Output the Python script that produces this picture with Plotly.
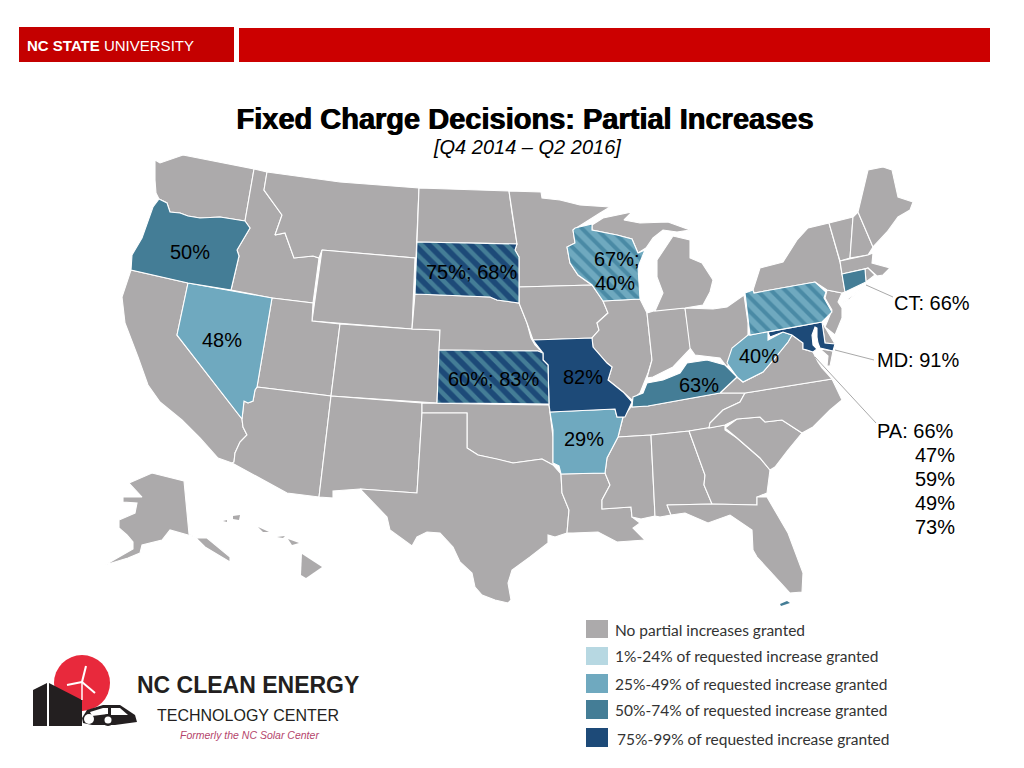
import plotly.graph_objects as go

# ---------- state outlines, map units ----------
WA = [(155,160),(160,163),(183,155),(254,169),(245,221),(220,217),(200,218),(188,216),(180,213),(170,212),(167,203),(159,199),(156,193),(155,180)]
OR = [(159,199),(167,203),(170,212),(180,213),(188,216),(200,218),(220,217),(245,221),(250,228),(237,250),(239,256),(231,290),(188,283),(131,270),(132,255),(142,238),(153,207)]
CA = [(131,270),(188,283),(177,335),(242,419),(243,427),(247,435),(240,442),(235,453),(234,462),(232,463),(218,458),(200,438),(182,420),(160,402),(148,385),(138,357),(125,323),(122,297)]
NV = [(188,283),(272,298),(257,387),(255,390),(253,401),(248,403),(244,401),(242,419),(177,335)]
ID = [(254,169),(267,172),(264,190),(282,215),(275,235),(285,233),(294,258),(313,256),(319,258),(313,303),(272,298),(231,290),(239,256),(237,250),(250,228),(245,221)]
MT = [(267,172),(340,182),(419,188),(416,258),(322,250),(319,258),(313,256),(294,258),(285,233),(275,235),(282,215),(264,190)]
WY = [(322,250),(415,258),(412,329),(312,321)]
UT = [(272,298),(313,303),(312,321),(340,324),(331,396),(257,387)]
AZ = [(257,387),(331,396),(319,497),(287,493),(232,463),(234,462),(235,453),(240,442),(247,435),(243,427),(242,419),(244,401),(248,403),(253,401),(255,390)]
CO = [(340,324),(412,329),(440,330),(437,403),(331,396)]
NM = [(331,396),(422,403),(422,413),(417,493),(360,489),(333,491),(333,498),(319,497)]
ND = [(419,188),(509,191),(512,213),(517,244),(417,242)]
SD = [(417,242),(517,244),(515,250),(519,257),(519,303),(497,300),(490,297),(415,294)]
NE = [(415,294),(490,297),(497,300),(519,303),(527,323),(531,338),(535,345),(543,353),(538,351),(439,350),(440,330),(412,329)]
KS = [(439,350),(538,351),(543,353),(543,360),(548,365),(549,404),(437,403)]
OK = [(422,403),(549,405),(550,413),(553,437),(553,465),(542,459),(513,463),(497,459),(478,455),(467,448),(467,413),(422,413)]
TX = [(422,413),(467,413),(467,448),(478,455),(497,459),(513,463),(542,459),(553,465),(561,474),(562,493),(569,510),(567,533),(555,537),(548,535),(548,543),(530,557),(512,570),(508,583),(511,600),(508,603),(495,600),(482,595),(475,587),(472,573),(460,562),(453,547),(440,533),(427,532),(417,537),(412,546),(390,530),(387,517),(360,489),(417,493)]
MN = [(509,191),(541,192),(542,198),(560,200),(580,205),(610,207),(600,213),(575,228),(573,230),(575,243),(567,247),(570,263),(578,275),(592,285),(519,287),(519,257),(515,250),(517,244),(512,213)]
IA = [(519,287),(592,285),(603,301),(608,313),(597,323),(599,330),(592,338),(533,340),(527,323),(519,303)]
MO = [(533,340),(592,338),(593,347),(607,363),(612,367),(608,380),(623,392),(632,402),(625,417),(617,417),(615,409),(550,412),(549,404),(548,365),(543,360),(543,353)]
AR = [(550,412),(615,409),(617,417),(623,417),(618,437),(607,458),(605,473),(561,474),(559,466),(553,463),(553,430)]
LA = [(561,474),(605,473),(610,485),(602,500),(602,509),(631,507),(632,517),(640,523),(633,528),(645,540),(617,542),(598,532),(573,533),(567,533),(569,510),(562,493)]
WI = [(575,228),(592,224),(592,230),(617,235),(632,239),(638,253),(645,250),(638,267),(640,299),(603,301),(592,285),(578,275),(570,263),(567,247),(575,243),(573,230)]
IL = [(603,301),(640,299),(647,313),(652,360),(648,373),(640,393),(632,400),(623,392),(608,380),(612,367),(607,363),(593,347),(592,338),(599,330),(597,323),(608,313)]
IN = [(647,313),(657,310),(685,308),(691,348),(673,367),(653,377),(647,378),(652,360)]
OH = [(685,308),(713,309),(727,307),(744,295),(748,323),(748,335),(727,367),(720,358),(695,355),(690,348)]
MI_LOWER = [(657,260),(673,236),(690,240),(690,258),(702,263),(713,280),(710,292),(703,305),(685,308),(655,311),(663,293),(657,277)]
MI_UPPER = [(592,225),(603,218),(627,213),(632,212),(624,220),(640,223),(668,222),(690,230),(677,232),(663,230),(653,238),(646,248),(638,253),(632,239),(617,235),(592,230)]
KY = [(632,407),(633,397),(643,393),(647,383),(663,380),(680,373),(687,363),(707,360),(725,365),(737,377),(720,393),(648,406)]
TN = [(631,407),(648,406),(720,393),(745,393),(740,402),(723,410),(710,423),(709,428),(689,431),(651,435),(618,437),(623,417)]
MS = [(618,437),(651,435),(655,516),(641,519),(632,517),(631,507),(602,509),(602,500),(610,485),(605,473),(607,458)]
AL = [(651,435),(689,431),(705,475),(704,485),(712,504),(667,505),(671,515),(660,517),(655,516)]
GA = [(689,431),(725,425),(725,430),(737,438),(760,458),(770,470),(767,493),(757,497),(757,505),(712,504),(704,485),(705,475)]
FL = [(667,505),(712,504),(757,505),(757,497),(767,497),(788,533),(803,573),(802,592),(790,593),(773,575),(757,557),(753,550),(752,530),(730,515),(708,523),(685,513),(671,515)]
SC = [(725,428),(737,419),(760,417),(765,422),(782,420),(802,433),(788,450),(775,467),(770,470),(760,458),(737,438)]
NC = [(745,393),(832,379),(842,400),(830,410),(813,427),(802,433),(782,420),(765,422),(760,417),(737,419),(725,425),(709,428),(710,423),(723,410),(740,402)]
VA = [(720,393),(737,377),(743,382),(763,372),(775,358),(788,342),(792,335),(803,343),(803,349),(807,350),(813,352),(818,362),(822,368),(832,379),(745,393)]
VA_SHORE = [(820,349),(833,351),(830,366),(827,366),(828,356)]
WV = [(750,335),(768,331),(768,340),(783,332),(792,335),(788,342),(775,358),(763,372),(743,382),(737,377),(727,363),(732,348),(748,335)]
PA = [(745,293),(753,290),(754,293),(815,282),(826,292),(824,298),(832,312),(822,322),(750,335)]
MD = [(768,332),(822,322),(825,343),(835,344),(833,351),(820,348),(818,343),(817,337),(817,328),(815,327),(812,335),(813,345),(817,349),(813,352),(807,350),(803,349),(803,343),(792,335),(783,332),(770,337)]
DE = [(822,322),(835,344),(825,343)]
NJ = [(827,290),(842,293),(838,302),(842,308),(842,318),(835,335),(825,327),(832,310),(825,298)]
NY = [(753,290),(760,268),(783,262),(797,240),(808,228),(829,223),(840,262),(842,274),(845,292),(842,293),(827,290),(815,282),(754,293)]
NY_LONG = [(842,303),(865,286),(850,299)]
VT = [(829,223),(853,217),(850,258),(840,261)]
NH = [(853,217),(858,212),(873,247),(868,255),(850,258)]
ME = [(858,212),(868,170),(883,167),(892,170),(898,197),(913,202),(910,210),(898,217),(887,232),(873,247)]
MA = [(840,261),(868,255),(873,253),(872,263),(890,268),(883,275),(877,276),(868,268),(842,274)]
CT = [(842,274),(865,269),(866,282),(845,292)]
RI = [(865,269),(868,268),(875,275),(866,282)]
AK = [(129,483),(152,473),(184,481),(189,534),(197,538),(207,538),(230,557),(230,562),(205,547),(195,537),(170,530),(162,540),(142,545),(140,553),(128,558),(105,565),(133,549),(133,542),(127,535),(119,528),(119,520),(135,513),(137,503),(123,502),(123,497),(142,497)]
HI_BIG = [(302,554),(322,567),(306,578),(301,575)]
HI_MAUI = [(288,539),(299,543),(292,545)]
HI_MOLOKAI = [(277,537),(285,536),(283,538)]
HI_OAHU = [(258,527),(269,532),(263,532)]
HI_KAUAI = [(233,516),(240,515),(239,520),(233,519)]
HI_NIIHAU = [(223,521),(227,520),(227,522)]
FL_KEYS = [(780,604),(787,601),(790,603),(781,606)]

# ---------- categories and values ----------
CATEGORY_LABELS = ["No partial increases granted","1%-24% of requested increase granted","25%-49% of requested increase granted","50%-74% of requested increase granted","75%-99% of requested increase granted"]
CATEGORY_COLORS = ["#acaaab","#b7d8e2","#6fa9bf","#447d96","#1d4a78"]
GREY_STATES = [WA,CA,ID,MT,WY,UT,AZ,CO,NM,ND,NE,OK,TX,MN,IA,LA,IL,IN,OH,MI_LOWER,MI_UPPER,TN,MS,AL,GA,FL,SC,NC,VA,VA_SHORE,DE,NJ,NY,NY_LONG,VT,NH,ME,MA,RI,AK]
ISLANDS = [HI_BIG,HI_MAUI,HI_MOLOKAI,HI_OAHU,HI_KAUAI,HI_NIIHAU]
MID_STATES = [NV,AR,WV]
HIGH_STATES = [OR,KY,CT]
TOP_STATES = [MO,MD]
HATCH_HIGH_TOP = [SD,KS]
HATCH_MID_HIGH = [WI,PA]

STATE_LABELS = ["50%","75%; 68%","67%;","40%","48%","40%","60%; 83%","82%","63%","29%"]
STATE_LABEL_X = [190,471,617,615,222,759,493,583,699,584]
STATE_LABEL_Y = [252,272,259,283,340,356,379,377,385,439]
SIDE_LABELS = ["CT: 66%","MD: 91%","PA: 66%","47%","59%","49%","73%"]
SIDE_LABEL_X = [892,875,875,913,913,913,913]
SIDE_LABEL_Y = [303,360,431,455,479,503,527]
LEADER_X = [[866,893],[835,874],[815,876]]
LEADER_Y = [[285,297],[350,360],[357,423]]

LEGEND_TOPS = [620,647,674,700,728]
LEGEND_BOTTOMS = [638,665,693,719,747]
LEGEND_TEXT_X = [613,613,613,613,615]
LEGEND_TEXT_Y = [630,656,684,710,739]

fig = go.Figure()

def add_state(points, color, stripe=None, solidity=0.5, edge=1.1):
    xs = [p[0] for p in points] + [points[0][0]]
    ys = [p[1] for p in points] + [points[0][1]]
    kw = dict(fillcolor=color)
    if stripe:
        kw["fillpattern"] = dict(shape="\\", size=10, solidity=solidity, fgcolor=stripe, bgcolor=color, fillmode="replace")
    fig.add_trace(go.Scatter(x=xs, y=ys, mode="lines", fill="toself", line=dict(color="white" if edge else color, width=edge), hoverinfo="skip", showlegend=False, **kw))

for s in GREY_STATES: add_state(s, CATEGORY_COLORS[0])
for s in ISLANDS: add_state(s, CATEGORY_COLORS[0], edge=0)
add_state(FL_KEYS, CATEGORY_COLORS[3], edge=0)
for s in MID_STATES: add_state(s, CATEGORY_COLORS[2])
for s in HIGH_STATES: add_state(s, CATEGORY_COLORS[3])
for s in TOP_STATES: add_state(s, CATEGORY_COLORS[4])
for s in HATCH_HIGH_TOP: add_state(s, CATEGORY_COLORS[3], CATEGORY_COLORS[4], 0.55)
for s in HATCH_MID_HIGH: add_state(s, CATEGORY_COLORS[2], "#4a8aa5", 0.4)

for lx, ly in zip(LEADER_X, LEADER_Y):
    fig.add_trace(go.Scatter(x=lx, y=ly, mode="lines", line=dict(color="#a9a9a9", width=1), hoverinfo="skip", showlegend=False))

shapes, notes = [], []
def note(x, y, text, size, color="black", family="Liberation Sans", anchor="center"):
    notes.append(dict(x=x, y=y, xref="x", yref="y", text=text, showarrow=False, xanchor=anchor, yanchor="middle",
                      font=dict(family=family, size=size, color=color)))
def rect(x0, y0, x1, y1, color):
    shapes.append(dict(type="rect", xref="x", yref="y", x0=x0, y0=y0, x1=x1, y1=y1, fillcolor=color, line_width=0, layer="above"))
def circle(cx, cy, r, color):
    shapes.append(dict(type="circle", xref="x", yref="y", x0=cx-r, y0=cy-r, x1=cx+r, y1=cy+r, fillcolor=color, line_width=0, layer="above"))
def path(points, color, close=True, width=0, linecolor=None):
    d = "M " + " L ".join(f"{a},{b}" for a, b in points) + (" Z" if close else "")
    s = dict(type="path", xref="x", yref="y", path=d, layer="above")
    if close:
        s.update(fillcolor=color, line_width=width)
    else:
        s.update(line=dict(color=linecolor or color, width=width))
    shapes.append(s)

# header
rect(19, 27, 234, 62, "#c40000")
rect(239, 28, 990, 62, "#cc0000")
note(25, 45, "<b>NC STATE</b> UNIVERSITY", 15, "white", "Liberation Sans", "left")

# title (double-struck in the source)
note(524.5, 118.5, "<b>Fixed Charge Decisions: Partial Increases</b>", 29)
note(525.5, 118.5, "<b>Fixed Charge Decisions: Partial Increases</b>", 29)
note(527, 147, "<i>[Q4 2014 – Q2 2016]</i>", 20)

for t, x, y in zip(STATE_LABELS, STATE_LABEL_X, STATE_LABEL_Y):
    note(x, y, t, 20)
for t, x, y in zip(SIDE_LABELS, SIDE_LABEL_X, SIDE_LABEL_Y):
    note(x, y, t, 20, anchor="left")

# legend
for c, t0, b0, label, tx, ty in zip(CATEGORY_COLORS, LEGEND_TOPS, LEGEND_BOTTOMS, CATEGORY_LABELS, LEGEND_TEXT_X, LEGEND_TEXT_Y):
    rect(586, t0, 608, b0, c)
    note(tx, ty, label, 15.5, "#333333", "Lato", "left")

# NC Clean Energy logo
DARK = "#231f20"
circle(82, 683, 28, "#e8293c")
path([(33,690),(47,683),(47,726),(33,726)], DARK)
path([(49,683),(82,700),(82,726),(49,726)], DARK)
path([(86,666),(82,682)], "white", close=False, width=2)
path([(67,685),(82,682)], "white", close=False, width=2)
path([(95,693),(82,682)], "white", close=False, width=2)
path([(82,682),(82,700)], "white", close=False, width=1.5)
path([(82,718),(87,710),(103,705),(120,705),(135,715),(137,722),(115,725),(92,725),(83,723)], DARK)
path([(90,712),(103,708),(108,708),(108,714),(92,716)], "white")
path([(111,708),(120,708),(128,715),(111,715)], "white")
circle(108, 720, 6, DARK); circle(108, 720, 3.5, "white")
circle(89, 719, 5, "white")
note(248, 685, "<b>NC CLEAN ENERGY</b>", 23, DARK)
note(248, 715, "TECHNOLOGY CENTER", 16, DARK)
note(249, 735, "<i>Formerly the NC Solar Center</i>", 10.5, "#b5456b")

fig.update_layout(width=1024, height=768, margin=dict(l=0, r=0, t=0, b=0), paper_bgcolor="white", plot_bgcolor="white",
                  shapes=shapes, annotations=notes, showlegend=False,
                  xaxis=dict(range=[0,1024], visible=False, fixedrange=True),
                  yaxis=dict(range=[768,0], visible=False, fixedrange=True))
fig.write_html("out.html", config=dict(displayModeBar=False), post_script="document.body.style.margin='0';")
